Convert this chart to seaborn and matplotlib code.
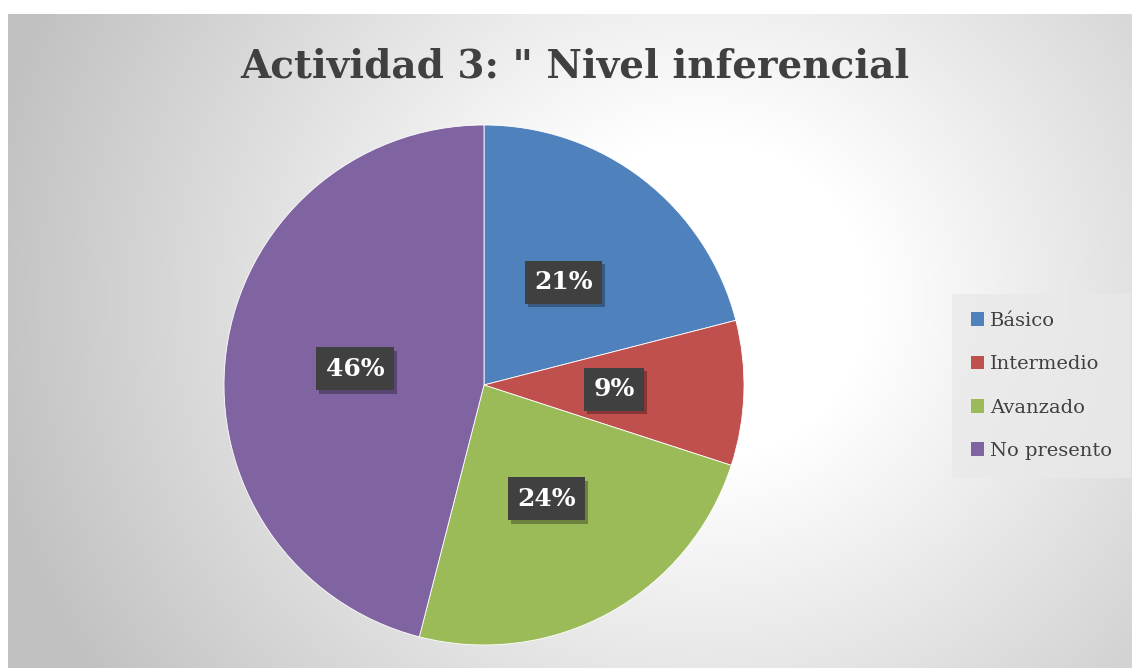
import numpy as np
import matplotlib
matplotlib.use("Agg")
import matplotlib.pyplot as plt
import seaborn as sns
from matplotlib.patches import Patch
import matplotlib.patheffects as pe

# ---- data ----
categories = ["Básico", "Intermedio", "Avanzado", "No presento"]
values = [21, 9, 24, 46]
colors = ["#4F81BD", "#C0504D", "#9BBB59", "#8064A2"]
title = "Actividad 3: \" Nivel inferencial"

sns.set_theme(style="white")
plt.rcParams["font.family"] = ["DejaVu Serif", "DejaVu Sans"]

W, H = 1132, 668
fig = plt.figure(figsize=(W / 100, H / 100), dpi=100, facecolor="white")

# background panel with radial gradient
x0, y0 = 8, 14
bg = fig.add_axes([x0 / W, 0, (W - x0) / W, (H - y0) / H])
yy, xx = np.mgrid[y0:H, x0:W]
cx, cy = 700, 300
d = np.sqrt((xx - cx) ** 2 + ((yy - cy) * 1.05) ** 2)
t = np.clip((d - 170) / (720 - 170), 0, 1)
g = 1.0 - t * (1.0 - 0.76)
img = np.dstack([g, g, g])
bg.imshow(img, aspect="auto", interpolation="bilinear")
bg.set_axis_off()

# pie axes
cxp, cyp, R = 484, 385, 260
ax = fig.add_axes([(cxp - R) / W, (H - cyp - R) / H, 2 * R / W, 2 * R / H])
ax.set_facecolor("none")
wedges, texts, autotexts = ax.pie(
    values, colors=colors, startangle=90, counterclock=False,
    autopct="%1.0f%%", pctdistance=0.5,
    wedgeprops=dict(linewidth=0.6, edgecolor="white"),
)
ax.set_xlim(-1, 1)
ax.set_ylim(-1, 1)
ax.set_aspect("equal")
for at in autotexts:
    at.set_color("white")
    at.set_fontsize(18)
    at.set_fontweight("bold")
    at.set_bbox(dict(boxstyle="square,pad=0.38", fc="#404040", ec="none"))
    at.get_bbox_patch().set_path_effects(
        [pe.SimplePatchShadow(offset=(2, -2.5), shadow_rgbFace="black", alpha=0.3), pe.Normal()]
    )

# title
fig.text(575 / W, 1 - 67 / H, title, ha="center", va="center",
         fontsize=28, fontweight="bold", color="#404040")

# legend
handles = [Patch(facecolor=c, edgecolor="none") for c in colors]
leg = fig.legend(handles, categories, loc="center left",
                 bbox_to_anchor=(958 / W, 1 - 386 / H),
                 frameon=True, fontsize=14, handlelength=0.7, handleheight=0.7,
                 handletextpad=0.3, labelspacing=1.3, borderpad=0.65,
                 borderaxespad=0.0, labelcolor="#404040")
leg.get_frame().set_facecolor("#e9e9e9")
leg.get_frame().set_edgecolor("none")
leg.get_frame().set_boxstyle("square")

fig.savefig("out.png", dpi=100, facecolor="white")
